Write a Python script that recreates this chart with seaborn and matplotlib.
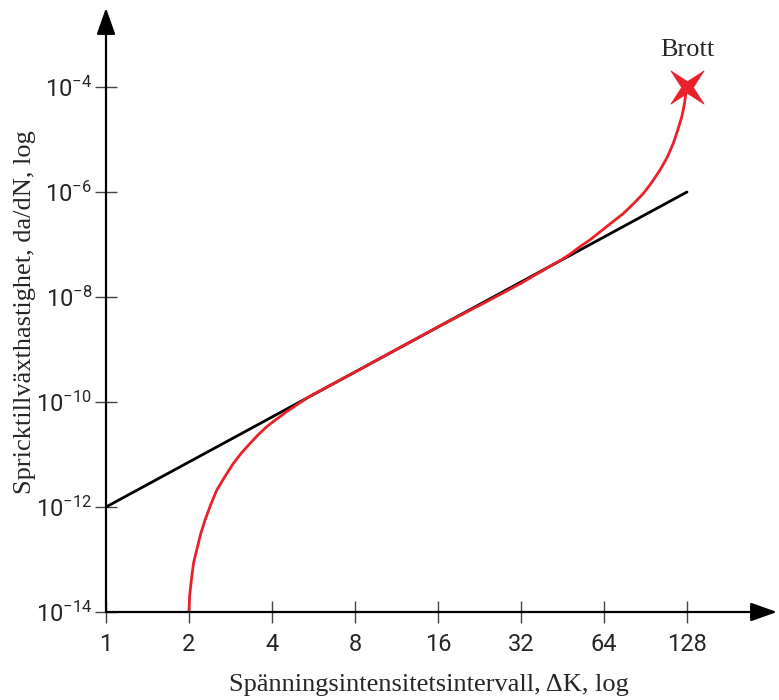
import numpy as np
import matplotlib
matplotlib.use("Agg")
import matplotlib.pyplot as plt
import seaborn as sns

# black reference line (Paris law) - delta K vs log10(da/dN)
line_dk = [1, 128]
line_log_dadn = [-12.0, -6.0]

red_dk = [2.0, 2.01, 2.046, 2.08, 2.133, 2.2, 2.286, 2.4, 2.521, 2.7, 2.896,
          3.1, 3.329, 3.57, 3.827, 4.05, 4.276, 4.5, 4.78, 5.1, 5.49, 8, 11.3,
          16, 24, 32, 40, 44.3, 48, 52.4, 57, 61.9, 68, 75.2, 82, 88.8, 95,
          102.2, 108.5, 114.2, 118.5, 122.5, 125, 126.9, 128]
red_log_dadn = [-14.0, -13.7, -13.33, -13.05, -12.82, -12.53, -12.25, -11.95,
                -11.68, -11.42, -11.17, -10.97, -10.79, -10.62, -10.47, -10.37,
                -10.28, -10.19, -10.1, -10.0, -9.89, -9.43, -9.0, -8.57,
                -8.09, -7.74, -7.44, -7.31, -7.19, -7.04, -6.91, -6.76, -6.59,
                -6.41, -6.22, -6.03, -5.83, -5.58, -5.34, -5.07, -4.82, -4.57,
                -4.35, -4.12, -4.0]

break_dk = 128
break_log_dadn = -4.0

x_ticks = [1, 2, 4, 8, 16, 32, 64, 128]
y_exps = [-14, -12, -10, -8, -6, -4]

sns.set_style("white")
plt.rcParams["font.family"] = ["Roboto", "DejaVu Sans"]
plt.rcParams["mathtext.default"] = "regular"
plt.rcParams["axes.unicode_minus"] = False

fig = plt.figure(figsize=(7.79, 7.0), dpi=100)
ax = fig.add_axes([106 / 779, 88 / 700, 671 / 779, 604 / 700])

red = "#e8212b"
sns.lineplot(x=line_dk, y=np.power(10.0, line_log_dadn), ax=ax, color="black",
             lw=2.0, sort=False, estimator=None)
sns.lineplot(x=red_dk, y=np.power(10.0, red_log_dadn), ax=ax, color=red,
             lw=2.0, sort=False, estimator=None)

# thin four-armed star, like the "x" in the original
star = []
for k in range(8):
    a = np.deg2rad(45 + 45 * k)
    r = 1.0 if k % 2 == 0 else 0.25
    star.append((r * np.cos(a), r * np.sin(a)))
star.append(star[0])
ax.plot([break_dk], [10.0 ** break_log_dadn], marker=star, ms=24,
        color=red, mec=red, mew=0.5, clip_on=False)

ax.set_xscale("log", base=2)
ax.set_yscale("log")
ax.set_xlim(1, 2 ** (671 / 83))
ax.set_ylim(1e-14, 10 ** (-14 + 604 / 52.5))

ax.set_xticks(x_ticks)
ax.set_xticklabels([str(t) for t in x_ticks])
ax.set_yticks([10.0 ** e for e in y_exps])
ax.set_yticklabels([f"$10^{{{e}}}$" for e in y_exps])
ax.minorticks_off()
ax.tick_params(bottom=True, left=True, direction="inout", length=16,
               width=1.0, color="#444444", labelsize=17, pad=7)
ax.tick_params(axis="y", pad=2)

for s in ax.spines.values():
    s.set_visible(False)
arrow = dict(arrowstyle="-|>,head_length=0.9,head_width=0.32", color="black",
             lw=1.6, mutation_scale=18, shrinkA=0, shrinkB=0)
ax.annotate("", xy=(1, 0), xytext=(0, 0), xycoords="axes fraction",
            arrowprops=arrow, annotation_clip=False)
ax.annotate("", xy=(0, 1), xytext=(0, 0), xycoords="axes fraction",
            arrowprops=arrow, annotation_clip=False)

serif = ["Liberation Serif", "DejaVu Serif"]
ax.set_xlabel("Spänningsintensitetsintervall, ΔK, log", fontsize=19,
              family=serif)
ax.set_ylabel("Spricktillväxthastighet, da/dN, log", fontsize=19,
              family=serif)
ax.xaxis.set_label_coords(0.481, -0.121)
ax.xaxis.label.set_verticalalignment("center")
ax.yaxis.set_label_coords(-0.105, 0.497)

ax.text(break_dk, 10 ** -3.3, "Brott", fontsize=19, family=serif,
        ha="center", va="center")

fig.savefig("out.png", dpi=100)
